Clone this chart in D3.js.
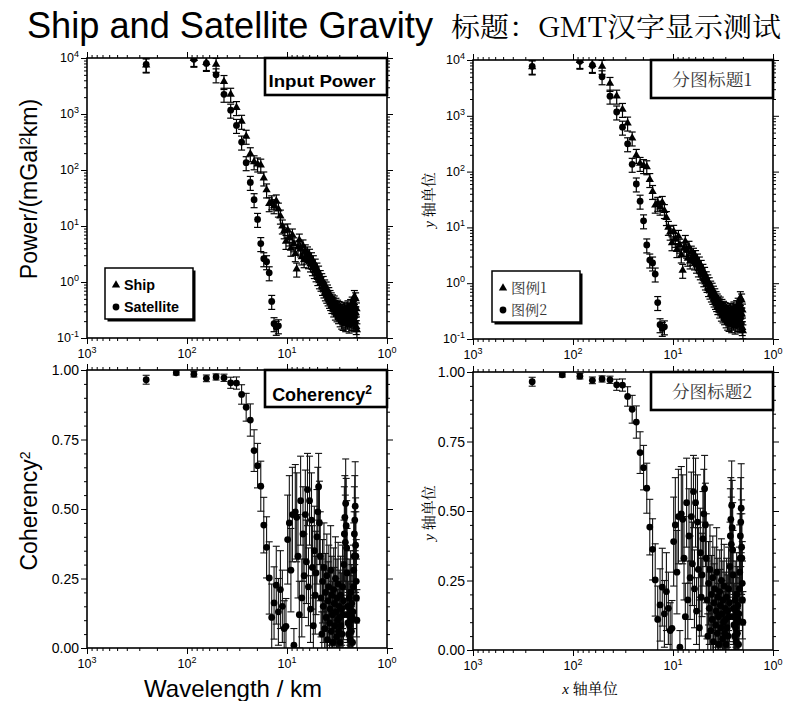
<!DOCTYPE html>
<html lang="en">
<head>
<meta charset="UTF-8" />
<title>Ship and Satellite Gravity</title>
<script src="https://cdn.jsdelivr.net/npm/d3@7"></script>
<style>
  body { margin: 0; background: #fff; }
  svg { display: block; font-family: "Liberation Sans", Arial, Helvetica, sans-serif; }
</style>
</head>
<body>
<svg id="chart" width="788" height="701"></svg>
<script>
// wavelengths (km) of the spectral estimates, 256 km segment
const wavelength = [
  256, 128, 85.33, 64, 51.2, 42.67, 36.57, 32, 28.44, 25.6,
  23.27, 21.33, 19.69, 18.29, 17.07, 16, 15.06, 14.22, 13.47, 12.8,
  12.19, 11.64, 11.13, 10.67, 10.24, 9.85, 9.48, 9.14, 8.83, 8.53,
  8.26, 8, 7.76, 7.53, 7.31, 7.11, 6.92, 6.74, 6.56, 6.4,
  6.24, 6.1, 5.95, 5.82, 5.69, 5.57, 5.45, 5.33, 5.22, 5.12,
  5.02, 4.92, 4.83, 4.74, 4.65, 4.57, 4.49, 4.41, 4.34, 4.27,
  4.2, 4.13, 4.06, 4, 3.94, 3.88, 3.82, 3.76, 3.71, 3.66,
  3.61, 3.56, 3.51, 3.46, 3.41, 3.37, 3.32, 3.28, 3.24, 3.2,
  3.16, 3.12, 3.08, 3.05, 3.01, 2.98, 2.94, 2.91, 2.88, 2.84,
  2.81, 2.78, 2.75, 2.72, 2.69, 2.67, 2.64, 2.61, 2.59, 2.56,
  2.53, 2.51, 2.49, 2.46, 2.44, 2.42, 2.39, 2.37, 2.35, 2.33,
  2.31, 2.29, 2.27, 2.25, 2.23, 2.21, 2.19, 2.17, 2.15, 2.13,
  2.12, 2.1, 2.08, 2.06, 2.05, 2.03, 2.02, 2
];

// power, mGal^2 km (null = off the plot)
const shipPower = [
  7500, null, 9800, 8300, 7700, 3800, 2250, 1300, 740, 400,
  195, 140, 128, 122, 72, 44, 25, 27, 23, 28,
  20, 15, 10, 8.2, 5.3, 8.5, 6.1, 4.0, 6.9, 4.8,
  3.2, 1.7, 4.2, 5.6, 3.9, 2.8, 4.4, 2.5, 3.6, 2.9,
  3.3, 2.4, 3.0, 2.1, 2.6, 1.8, 2.3, 1.6, 2.0, 1.4,
  1.7, 1.2, 1.5, 1.05, 1.25, 0.95, 1.1, 0.8, 0.98, 0.72,
  0.85, 0.64, 0.78, 0.58, 0.69, 0.52, 0.62, 0.47, 0.55, 0.43,
  0.5, 0.38, 0.46, 0.41, 0.33, 0.44, 0.36, 0.29, 0.4, 0.34,
  0.27, 0.37, 0.31, 0.25, 0.35, 0.3, 0.22, 0.33, 0.27, 0.2,
  0.31, 0.26, 0.19, 0.29, 0.24, 0.34, 0.21, 0.28, 0.18, 0.32,
  0.25, 0.3, 0.2, 0.36, 0.23, 0.27, 0.17, 0.33, 0.26, 0.21,
  0.38, 0.24, 0.29, 0.19, 0.42, 0.27, 0.22, 0.35, 0.18, 0.31,
  0.55, 0.25, 0.2, 0.5, 0.28, 0.16, 0.33, 0.14
];
const satPower = [
  7700, null, 9500, 8000, 5000, 2250, 1170, 625, 315, 135,
  60, 29.5, 13.1, 4.85, 2.6, 2.3, 1.46, 0.45, 0.18, 0.155, 0.165
];
const powerErrRatio = 0.28;

const coherency = [
  0.965, 0.99, 0.985, 0.97, 0.975, 0.972, 0.954, 0.953, 0.912, 0.866,
  0.82, 0.71, 0.656, 0.582, 0.442, 0.362, 0.252, 0.11, 0.162, 0.226,
  0.13, 0.21, 0.15, 0.07, 0.078, 0.39, 0.45, 0.28, 0.48, 0.01,
  0.49, 0.47, 0.33, 0.12, 0.53, 0.18, 0.41, 0.26, 0.48, 0.31,
  0.57, 0.22, 0.53, 0.14, 0.46, 0.29, 0.08, 0.35, 0.19, 0.27,
  0.4, 0.49, 0.58, 0.45, 0.33, 0.18, 0.05, 0.24, 0.15, 0.29,
  0.07, 0.2, 0.11, 0.26, 0.03, 0.17, 0.22, 0.09, 0.14, 0.28,
  0.06, 0.19, 0.12, 0.02, 0.21, 0.16, 0.08, 0.25, 0.13, 0.04,
  0.18, 0.1, 0.23, 0.06, 0.15, 0.11, 0.02, 0.19, 0.08, 0.14,
  0.05, 0.22, 0.12, 0.17, 0.3, 0.41, 0.47, 0.38, 0.52, 0.44,
  0.36, 0.27, 0.15, 0.09, 0.12, 0.05, 0.18, 0.08, 0.14, 0.03,
  0.2, 0.1, 0.06, 0.16, 0.11, 0.02, 0.13, 0.22, 0.28, 0.33,
  0.41, 0.46, 0.51, 0.37, 0.33, 0.24, 0.18, 0.1
];
const coherencyErr = [
  0.016, 0.008, 0.01, 0.012, 0.011, 0.013, 0.02, 0.022, 0.035, 0.05,
  0.058, 0.075, 0.08, 0.09, 0.1, 0.11, 0.13, 0.12, 0.13, 0.14,
  0.12, 0.14, 0.13, 0.1, 0.1, 0.16, 0.17, 0.15, 0.17, 0.06,
  0.17, 0.16, 0.15, 0.12, 0.16, 0.14, 0.17, 0.15, 0.16, 0.15,
  0.13, 0.14, 0.16, 0.12, 0.17, 0.15, 0.1, 0.16, 0.14, 0.15,
  0.17, 0.16, 0.12, 0.15, 0.16, 0.14, 0.08, 0.15, 0.13, 0.16,
  0.1, 0.14, 0.12, 0.15, 0.07, 0.14, 0.15, 0.11, 0.13, 0.16,
  0.09, 0.14, 0.12, 0.05, 0.15, 0.13, 0.1, 0.15, 0.12, 0.08,
  0.14, 0.11, 0.15, 0.09, 0.13, 0.12, 0.05, 0.14, 0.1, 0.13,
  0.08, 0.15, 0.12, 0.14, 0.16, 0.17, 0.15, 0.17, 0.16, 0.17,
  0.17, 0.16, 0.13, 0.11, 0.12, 0.08, 0.14, 0.1, 0.13, 0.06,
  0.15, 0.11, 0.09, 0.14, 0.12, 0.05, 0.13, 0.15, 0.17, 0.16,
  0.17, 0.16, 0.16, 0.17, 0.16, 0.15, 0.14, 0.11
];

const xDecades = [1000, 100, 10, 1];
const powerDecades = [1e4, 1e3, 1e2, 1e1, 1, 0.1];
const cohTicks = [0, 0.25, 0.5, 0.75, 1];

const svg = d3.select('#chart');
const serif = '"Noto Serif CJK SC", "Noto Sans CJK SC", serif';

// text helper, stretched to the measured width where given
function label(g, o) {
  const t = g.append('text')
    .attr('x', o.x).attr('y', o.y)
    .attr('font-size', o.size)
    .attr('text-anchor', o.anchor || 'start')
    .attr('font-weight', o.weight || 'normal')
    .attr('fill', o.fill || '#000')
    .text(o.text);
  if (o.family) t.attr('font-family', o.family);
  if (o.len) t.attr('textLength', o.len).attr('lengthAdjust', 'spacingAndGlyphs');
  if (o.rotate) t.attr('transform', `rotate(${o.rotate},${o.x},${o.y})`);
  return t;
}

function powLabel(g, x, y, v, anchor) {
  const e = Math.round(Math.log10(v));
  const t = g.append('text').attr('x', x).attr('y', y)
    .attr('font-size', 12.5).attr('text-anchor', anchor);
  t.append('tspan').text('10');
  t.append('tspan').attr('dy', -5).attr('font-size', 9).text(e);
}

function minorLog(decades) {
  const out = [];
  decades.forEach(d => { for (let m = 2; m <= 9; m++) out.push(d * m); });
  return out;
}

const panels = [
  { x: 87, y: 58, w: 300, h: 280, kind: 'power', title: 'Input Power', cjk: false },
  { x: 473, y: 60, w: 300, h: 279, kind: 'power', title: '分图标题1', cjk: true },
  { x: 87, y: 370, w: 300, h: 278, kind: 'coh', title: 'Coherency', cjk: false },
  { x: 473, y: 372, w: 300, h: 278, kind: 'coh', title: '分图标题2', cjk: true }
];

panels.forEach((p, i) => {
  const g = svg.append('g').attr('transform', `translate(${p.x},${p.y})`);
  const x = d3.scaleLog().domain([1000, 1]).range([0, p.w]);
  const y = p.kind === 'power'
    ? d3.scaleLog().domain([0.1, 1e4]).range([p.h, 0])
    : d3.scaleLinear().domain([0, 1]).range([p.h, 0]);

  const clipId = 'clip' + i;
  g.append('clipPath').attr('id', clipId)
    .append('rect').attr('width', p.w).attr('height', p.h);

  // ticks on all four sides, outward
  const xMinor = minorLog([1, 10, 100]);
  const yMajor = p.kind === 'power' ? powerDecades : cohTicks;
  const yMinor = p.kind === 'power' ? minorLog([0.1, 1, 10, 100, 1000]) : d3.range(0.05, 1, 0.05).filter(v => Math.abs(v * 4 - Math.round(v * 4)) > 1e-6);
  const tickAxis = (axis, vals, size, tr) => {
    const a = g.append('g').attr('transform', tr)
      .call(axis.tickValues(vals).tickSize(size).tickFormat(''));
    a.select('.domain').remove();
    a.selectAll('line').attr('stroke', '#000').attr('stroke-width', 1);
  };
  tickAxis(d3.axisBottom(x), xDecades, 6, `translate(0,${p.h})`);
  tickAxis(d3.axisBottom(x), xMinor, 3, `translate(0,${p.h})`);
  tickAxis(d3.axisTop(x), xDecades, 6, 'translate(0,0)');
  tickAxis(d3.axisTop(x), xMinor, 3, 'translate(0,0)');
  tickAxis(d3.axisLeft(y), yMajor, 6, 'translate(0,0)');
  tickAxis(d3.axisLeft(y), yMinor, 3, 'translate(0,0)');
  tickAxis(d3.axisRight(y), yMajor, 6, `translate(${p.w},0)`);
  tickAxis(d3.axisRight(y), yMinor, 3, `translate(${p.w},0)`);

  // tick labels
  xDecades.forEach(v => powLabel(g, x(v), p.h + 20, v, 'middle'));
  if (p.kind === 'power') {
    powerDecades.forEach(v => powLabel(g, -8, y(v) + 4, v, 'end'));
  } else {
    cohTicks.forEach(v => label(g, { x: -8, y: y(v) + 5, text: v.toFixed(2), size: 14, anchor: 'end' }));
  }

  const plot = g.append('g').attr('clip-path', `url(#${clipId})`);

  function errorBars(vals, errLo, errHi, color, width) {
    const pts = vals.map((v, k) => ({ w: wavelength[k], v, lo: errLo(v, k), hi: errHi(v, k) }))
      .filter(d => d.v != null);
    const eg = plot.append('g').attr('stroke', color).attr('stroke-width', width).attr('fill', 'none');
    pts.forEach(d => {
      const cx = x(d.w), y0 = y(Math.max(d.lo, p.kind === 'power' ? 1e-3 : -1)), y1 = y(d.hi);
      eg.append('line').attr('x1', cx).attr('x2', cx).attr('y1', y0).attr('y2', y1);
      eg.append('line').attr('x1', cx - 3.5).attr('x2', cx + 3.5).attr('y1', y0).attr('y2', y0);
      eg.append('line').attr('x1', cx - 3.5).attr('x2', cx + 3.5).attr('y1', y1).attr('y2', y1);
    });
    return pts;
  }

  const tri = d3.symbol(d3.symbolTriangle, 30);
  if (p.kind === 'power') {
    const ship = errorBars(shipPower, v => v * (1 - powerErrRatio), v => v * (1 + powerErrRatio), '#000', 1.2);
    plot.selectAll(null).data(ship).join('path')
      .attr('d', tri).attr('fill', '#000')
      .attr('transform', d => `translate(${x(d.w)},${y(d.v)})`);
    const sat = errorBars(satPower, v => v * (1 - powerErrRatio), v => v * (1 + powerErrRatio), '#000', 1.2);
    plot.selectAll(null).data(sat).join('circle')
      .attr('cx', d => x(d.w)).attr('cy', d => y(d.v)).attr('r', 3.4).attr('fill', '#000');
  } else {
    const coh = errorBars(coherency, (v, k) => v - coherencyErr[k], (v, k) => v + coherencyErr[k], '#111', 1.1);
    plot.selectAll(null).data(coh).join('circle')
      .attr('cx', d => x(d.w)).attr('cy', d => y(d.v)).attr('r', 3.4).attr('fill', '#000');
  }

  // frame
  g.append('rect').attr('width', p.w).attr('height', p.h)
    .attr('fill', 'none').attr('stroke', '#000').attr('stroke-width', 1.6);

  // title box in the upper right corner
  const bw = 122, bh = p.cjk ? 38 : 37;
  g.append('rect').attr('x', p.w - bw).attr('y', 0).attr('width', bw).attr('height', bh)
    .attr('fill', '#fff').attr('stroke', '#000').attr('stroke-width', 2.6);
  if (p.cjk) {
    label(g, { x: p.w - bw / 2, y: 26, text: p.title, size: 17, anchor: 'middle', family: serif, fill: '#333', len: 80 });
  } else if (p.kind === 'power') {
    label(g, { x: p.w - bw / 2 - 4, y: 29, text: p.title, size: 17, weight: 'bold', anchor: 'middle', len: 107 });
  } else {
    const t = label(g, { x: p.w - bw / 2 - 4, y: 31, text: '', size: 18, weight: 'bold', anchor: 'middle' });
    t.append('tspan').text(p.title);
    t.append('tspan').attr('dy', -7).attr('font-size', 12).text('2');
  }

  // legend for the power panels
  if (p.kind === 'power') {
    const lx = p.cjk ? 19 : 18, ly = p.cjk ? 211 : 210;
    const lg = g.append('g').attr('transform', `translate(${lx},${ly})`);
    lg.append('rect').attr('x', 2.5).attr('y', 2.5).attr('width', 88).attr('height', 51).attr('fill', '#000');
    lg.append('rect').attr('width', 88).attr('height', 51).attr('fill', '#fff').attr('stroke', '#000').attr('stroke-width', 1.5);
    lg.append('path').attr('d', tri).attr('transform', 'translate(11,17)').attr('fill', '#000');
    lg.append('circle').attr('cx', 11).attr('cy', 39).attr('r', 3.4).attr('fill', '#000');
    if (p.cjk) {
      label(lg, { x: 19, y: 22, text: '图例1', size: 14, family: serif, fill: '#333', len: 36 });
      label(lg, { x: 19, y: 44, text: '图例2', size: 14, family: serif, fill: '#333', len: 36 });
    } else {
      label(lg, { x: 19, y: 22, text: 'Ship', size: 14, weight: 'bold', len: 31 });
      label(lg, { x: 19, y: 44, text: 'Satellite', size: 14, weight: 'bold', len: 55 });
    }
  }
});

// titles
label(svg, { x: 27, y: 38, text: 'Ship and Satellite Gravity', size: 36, len: 406 });
label(svg, { x: 451, y: 37, text: '标题：GMT汉字显示测试', size: 27, family: serif, len: 330 });

// axis titles
const yl = label(svg, { x: 37, y: 189, text: '', size: 23, anchor: 'middle', rotate: -90 });
yl.append('tspan').text('Power/(mGal');
yl.append('tspan').attr('dy', -7).attr('font-size', 14).text('2');
yl.append('tspan').attr('dy', 7).text('km)');

const cl = label(svg, { x: 37, y: 511, text: '', size: 23, anchor: 'middle', rotate: -90 });
cl.append('tspan').text('Coherency');
cl.append('tspan').attr('dy', -7).attr('font-size', 14).text('2');

function unitLabel(x, y, axisName, rotate) {
  const t = label(svg, { x, y, text: '', size: 15, anchor: 'middle', rotate, family: serif });
  t.append('tspan').attr('font-style', 'italic').attr('font-family', '"Liberation Serif", serif').text(axisName + ' ');
  t.append('tspan').text('轴单位');
}
unitLabel(434, 200, 'y', -90);
unitLabel(434, 513, 'y', -90);

label(svg, { x: 233, y: 697, text: 'Wavelength / km', size: 24, anchor: 'middle', len: 178 });
unitLabel(590, 694, 'x', 0);
</script>
</body>
</html>
